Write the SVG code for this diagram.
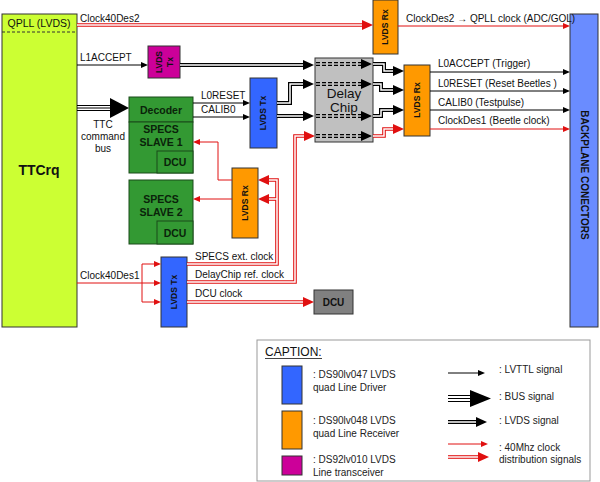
<svg xmlns="http://www.w3.org/2000/svg" width="600" height="482" viewBox="0 0 600 482">
<style>
text{font-family:"Liberation Sans",Arial,sans-serif;fill:#111}
.lbl{font-size:10px}
.box{stroke:#333;stroke-width:1}
.grn{fill:#339933;stroke:#1a4a1a;stroke-width:1}
.gt{font-size:10.5px;font-weight:bold;fill:#0a230a;text-anchor:middle}
.vt{font-size:8.5px;font-weight:bold;text-anchor:middle}
.tt{fill:none;stroke:#000;stroke-width:1}
.rt{fill:none;stroke:#e01010;stroke-width:1}
.bo{fill:none;stroke:#000;stroke-width:4}
.ro{fill:none;stroke:#e01010;stroke-width:3.6}
.in{fill:none;stroke:#fff;stroke-width:1.5}
.dash{fill:none;stroke:#000;stroke-width:4;stroke-dasharray:4 2}
.dashin{fill:none;stroke:#c0c0c0;stroke-width:1.4}
.cap{font-size:10px;fill:#222}
</style>
<defs>
<marker id="aS" viewBox="0 -3 7 6" markerWidth="7" markerHeight="6" refX="0" refY="0" markerUnits="userSpaceOnUse" orient="auto"><path d="M0,-3 L7,0 L0,3 z" fill="#000"/></marker>
<marker id="aSr" viewBox="0 -3 7 6" markerWidth="7" markerHeight="6" refX="0" refY="0" markerUnits="userSpaceOnUse" orient="auto"><path d="M0,-3 L7,0 L0,3 z" fill="#e01010"/></marker>
<marker id="aL" viewBox="0 -5 11 10" markerWidth="11" markerHeight="10" refX="0" refY="0" markerUnits="userSpaceOnUse" orient="auto"><path d="M0,-5 L11,0 L0,5 z" fill="#000"/></marker>
<marker id="aLr" viewBox="0 -5 11 10" markerWidth="11" markerHeight="10" refX="0" refY="0" markerUnits="userSpaceOnUse" orient="auto"><path d="M0,-5 L11,0 L0,5 z" fill="#e01010"/></marker>
</defs>
<rect width="600" height="482" fill="#fff"/>

<g id="ttcrq">
<rect x="2" y="14" width="75" height="313" fill="#ccff33" class="box"/>
<line x1="2" y1="32" x2="77" y2="32" stroke="#333" stroke-dasharray="3 2"/>
<text x="39" y="27" font-size="10.5" text-anchor="middle">QPLL (LVDS)</text>
<text x="39" y="175" font-size="14" font-weight="bold" text-anchor="middle">TTCrq</text>
</g>

<g id="backplane">
<rect x="570" y="14" width="28" height="313" fill="#6a8cff" class="box"/>
<text transform="translate(584,175) rotate(90)" dy="0.35em" font-size="10" font-weight="bold" text-anchor="middle" fill="#10184a">BACKPLANE CONECTORS</text>
</g>

<g id="lvds-rx-top">
<rect x="373" y="0" width="25" height="54" fill="#ff9900" class="box"/>
<text class="vt" transform="translate(385.5,27) rotate(-90)" dy="0.35em">LVDS Rx</text>
</g>

<g id="lvds-tx-l1">
<rect x="148" y="46" width="32" height="32" fill="#cc0099" class="box"/>
<text class="vt" transform="translate(159,62) rotate(-90)" dy="0.35em">LVDS</text>
<text class="vt" transform="translate(170,62) rotate(-90)" dy="0.35em">Tx</text>
</g>

<g id="decoder">
<rect x="129" y="97" width="64" height="25" class="grn"/>
<text class="gt" x="161" y="114">Decoder</text>
</g>

<g id="specs-slave-1">
<rect x="129" y="122" width="64" height="51" class="grn"/>
<rect x="157" y="151" width="36" height="22" class="grn"/>
<text class="gt" x="161" y="133">SPECS</text>
<text class="gt" x="161" y="146">SLAVE 1</text>
<text class="gt" x="175" y="166">DCU</text>
</g>

<g id="specs-slave-2">
<rect x="129" y="180" width="64" height="64" class="grn"/>
<rect x="157" y="221" width="36" height="23" class="grn"/>
<text class="gt" x="161" y="203">SPECS</text>
<text class="gt" x="161" y="216">SLAVE 2</text>
<text class="gt" x="175" y="237">DCU</text>
</g>

<g id="lvds-tx-mid">
<rect x="250" y="78" width="27" height="70" fill="#3366ff" class="box"/>
<text class="vt" transform="translate(263.5,113) rotate(-90)" dy="0.35em">LVDS Tx</text>
</g>

<g id="lvds-rx-mid">
<rect x="232" y="168" width="26" height="70" fill="#ff9900" class="box"/>
<text class="vt" transform="translate(245,203) rotate(-90)" dy="0.35em">LVDS Rx</text>
</g>

<g id="delay-chip">
<rect x="315" y="58" width="58" height="84" fill="#c0c0c0" class="box"/>
<path class="dash" d="M316,64 H362 M316,84 H362 M316,116 H362 M316,136 H362"/>
<path class="dashin" d="M316,64 H362 M316,84 H362 M316,116 H362 M316,136 H362"/>
<path d="M361,59 L372,64 L361,69 z M361,79 L372,84 L361,89 z M361,111 L372,116 L361,121 z M361,131 L372,136 L361,141 z" fill="#000"/>
<text x="344" y="98" font-size="13.5" text-anchor="middle">Delay</text>
<text x="344" y="112" font-size="13.5" text-anchor="middle">Chip</text>
</g>

<g id="lvds-rx-right">
<rect x="404" y="65" width="26" height="71" fill="#ff9900" class="box"/>
<text class="vt" transform="translate(417,100) rotate(-90)" dy="0.35em">LVDS Rx</text>
</g>

<g id="lvds-tx-bottom">
<rect x="161" y="257" width="26" height="70" fill="#3366ff" class="box"/>
<text class="vt" transform="translate(174,292) rotate(-90)" dy="0.35em">LVDS Tx</text>
</g>

<g id="dcu">
<rect x="314" y="290" width="39" height="24" fill="#808080" class="box"/>
<text x="333.5" y="306" font-size="10" font-weight="bold" text-anchor="middle">DCU</text>
</g>

<g id="connectors">
<path class="tt" d="M77,65 H141" marker-end="url(#aS)"/>
<path class="tt" d="M193,103 H243" marker-end="url(#aS)"/>
<path class="tt" d="M193,117 H243" marker-end="url(#aS)"/>
<path class="tt" d="M430,72 H563" marker-end="url(#aS)"/>
<path class="tt" d="M430,91 H563" marker-end="url(#aS)"/>
<path class="tt" d="M430,110 H563" marker-end="url(#aS)"/>
<path d="M77,105.5 H112 M77,108 H112 M77,110.5 H112" stroke="#000" stroke-width="1.2" fill="none"/>
<polygon points="110,98 129,108 110,118" fill="#000"/>
<path class="bo" d="M180,65 H303" marker-end="url(#aL)"/>
<path class="in" d="M180,65 H303"/>
<path class="bo" d="M277,103 H290 V84 H303" marker-end="url(#aL)"/>
<path class="in" d="M277,103 H290 V84 H303"/>
<path class="bo" d="M277,116 H303" marker-end="url(#aL)"/>
<path class="in" d="M277,116 H303"/>
<path class="bo" d="M373,64 H384 V71 H393" marker-end="url(#aL)"/>
<path class="in" d="M373,64 H384 V71 H393"/>
<path class="bo" d="M373,84 H381 V90 H393" marker-end="url(#aL)"/>
<path class="in" d="M373,84 H381 V90 H393"/>
<path class="bo" d="M373,116 H381 V110 H393" marker-end="url(#aL)"/>
<path class="in" d="M373,116 H381 V110 H393"/>
<path class="rt" d="M398,26 H563" marker-end="url(#aSr)"/>
<path class="rt" d="M430,129 H563" marker-end="url(#aSr)"/>
<path class="rt" d="M77,283 H142 M142,264 V302"/>
<path class="rt" d="M142,264 H154" marker-end="url(#aSr)"/>
<path class="rt" d="M142,283 H154" marker-end="url(#aSr)"/>
<path class="rt" d="M142,302 H154" marker-end="url(#aSr)"/>
<path class="rt" d="M232,180 H218 V142 H200" marker-end="url(#aSr)"/>
<path class="rt" d="M232,199 H200" marker-end="url(#aSr)"/>
<path class="ro" d="M77,25 H362" marker-end="url(#aLr)"/>
<path class="in" d="M77,25 H362"/>
<path class="ro" d="M373,136 H384 V129 H393" marker-end="url(#aLr)"/>
<path class="in" d="M373,136 H384 V129 H393"/>
<path class="ro" d="M187,264 H277 V180 H269" marker-end="url(#aLr)"/>
<path class="ro" d="M277,199 H269" marker-end="url(#aLr)"/>
<path class="in" d="M187,264 H277 V180 H269 M277,199 H269"/>
<path class="ro" d="M187,282 H295 V136 H304" marker-end="url(#aLr)"/>
<path class="in" d="M187,282 H295 V136 H304"/>
<path class="ro" d="M187,302 H303" marker-end="url(#aLr)"/>
<path class="in" d="M187,302 H303"/>
</g>

<g id="labels">
<text class="lbl" x="80" y="22">Clock40Des2</text>
<text class="lbl" x="406" y="22">ClockDes2 → QPLL clock (ADC/GOL)</text>
<text class="lbl" x="80" y="61">L1ACCEPT</text>
<text class="lbl" x="201" y="99">L0RESET</text>
<text class="lbl" x="201" y="113">CALIB0</text>
<text class="lbl" x="438" y="67">L0ACCEPT (Trigger)</text>
<text class="lbl" x="438" y="87">L0RESET (Reset Beetles )</text>
<text class="lbl" x="438" y="106">CALIB0 (Testpulse)</text>
<text class="lbl" x="438" y="124">ClockDes1 (Beetle clock)</text>
<text class="lbl" x="103" y="128" text-anchor="middle">TTC</text>
<text class="lbl" x="103" y="140" text-anchor="middle">command</text>
<text class="lbl" x="103" y="152" text-anchor="middle">bus</text>
<text class="lbl" x="80" y="279">Clock40Des1</text>
<text class="lbl" x="195" y="260">SPECS ext. clock</text>
<text class="lbl" x="195" y="278">DelayChip ref. clock</text>
<text class="lbl" x="195" y="297">DCU clock</text>
</g>

<g id="caption">
<rect x="257" y="340" width="333" height="141" fill="#fff" stroke="#999"/>
<text x="265" y="356" font-size="12" fill="#444">CAPTION:</text>
<line x1="265" y1="358.5" x2="322" y2="358.5" stroke="#444"/>
<rect x="282" y="366" width="20" height="38" fill="#3366ff" class="box"/>
<rect x="282" y="411" width="20" height="38" fill="#ff9900" class="box"/>
<rect x="282" y="456" width="20" height="19" fill="#cc0099" class="box"/>
<text class="cap" x="313" y="378">: DS90lv047 LVDS</text>
<text class="cap" x="313" y="391">quad Line Driver</text>
<text class="cap" x="313" y="424">: DS90lv048 LVDS</text>
<text class="cap" x="313" y="437">quad Line Receiver</text>
<text class="cap" x="313" y="463">: DS92lv010 LVDS</text>
<text class="cap" x="313" y="476">Line transceiver</text>
<path class="tt" d="M448,373 H478" marker-end="url(#aS)"/>
<path d="M448,395.5 H472 M448,398.5 H472 M448,401.5 H472" stroke="#000" stroke-width="1.2" fill="none"/>
<polygon points="470,390 491,398.5 470,407" fill="#000"/>
<path class="bo" d="M448,422 H476" marker-end="url(#aL)"/>
<path class="in" d="M448,422 H476"/>
<path class="rt" d="M448,444 H481" marker-end="url(#aSr)"/>
<path class="ro" d="M448,457 H478" stroke-width="5" marker-end="url(#aLr)"/>
<path class="in" d="M448,457 H478" stroke-width="1.5"/>
<text class="cap" x="499" y="373">: LVTTL signal</text>
<text class="cap" x="499" y="400">: BUS signal</text>
<text class="cap" x="499" y="424">: LVDS signal</text>
<text class="cap" x="499" y="451">: 40Mhz clock</text>
<text class="cap" x="499" y="463">distribution signals</text>
</g>
</svg>
